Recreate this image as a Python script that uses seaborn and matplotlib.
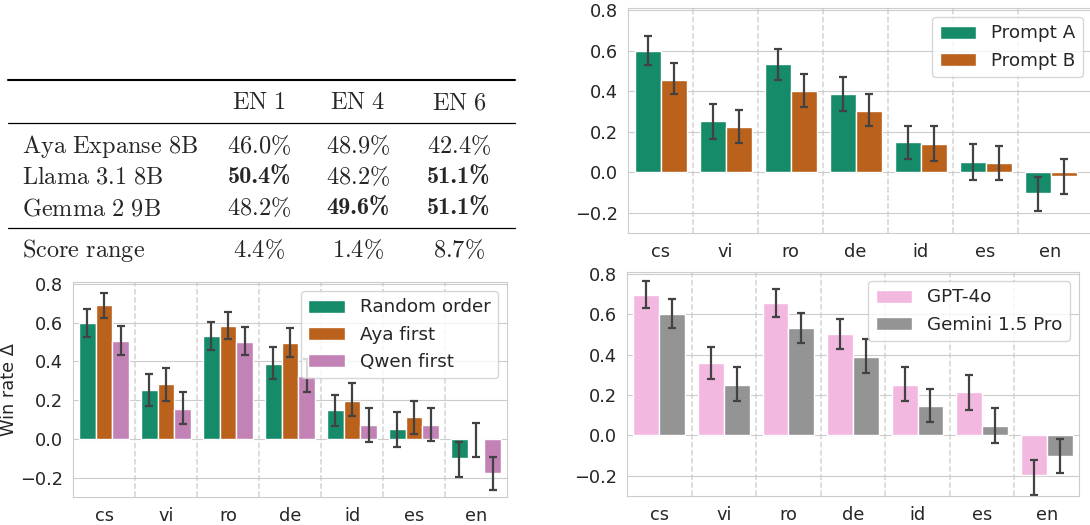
import numpy as np
import pandas as pd
import matplotlib.pyplot as plt
import seaborn as sns
from matplotlib.lines import Line2D

langs = ['cs', 'vi', 'ro', 'de', 'id', 'es', 'en']

# table: win rates in %
table_models = ['Aya Expanse 8B', 'Llama 3.1 8B', 'Gemma 2 9B']
table_cols = ['EN 1', 'EN 4', 'EN 6']
table_vals = [[46.0, 48.9, 42.4],
              [50.4, 48.2, 51.1],
              [48.2, 49.6, 51.1]]

# top right: prompt variants
prompt_labels = ['Prompt A', 'Prompt B']
prompt_mean = [[0.600, 0.252, 0.535, 0.388, 0.147, 0.049, -0.101],
               [0.457, 0.224, 0.403, 0.304, 0.141, 0.043, -0.018]]
prompt_lo = [[0.529, 0.162, 0.457, 0.300, 0.065, -0.039, -0.190],
             [0.386, 0.146, 0.324, 0.226, 0.054, -0.039, -0.108]]
prompt_hi = [[0.674, 0.335, 0.607, 0.471, 0.227, 0.137, -0.023],
             [0.537, 0.306, 0.483, 0.388, 0.227, 0.129, 0.064]]

# bottom left: order of presentation
order_labels = ['Random order', 'Aya first', 'Qwen first']
order_mean = [[0.598, 0.251, 0.532, 0.386, 0.147, 0.050, -0.101],
              [0.689, 0.285, 0.581, 0.496, 0.198, 0.113, -0.007],
              [0.503, 0.156, 0.499, 0.326, 0.074, 0.074, -0.174]]
order_lo = [[0.526, 0.168, 0.458, 0.311, 0.065, -0.041, -0.197],
            [0.626, 0.197, 0.515, 0.421, 0.116, 0.024, -0.094],
            [0.432, 0.075, 0.432, 0.244, -0.017, -0.010, -0.263]]
order_hi = [[0.672, 0.333, 0.603, 0.475, 0.229, 0.138, -0.014],
            [0.752, 0.368, 0.655, 0.574, 0.287, 0.198, 0.080],
            [0.583, 0.244, 0.576, 0.410, 0.159, 0.159, -0.091]]

# bottom right: judge model
judge_labels = ['GPT-4o', 'Gemini 1.5 Pro']
judge_mean = [[0.695, 0.359, 0.656, 0.504, 0.250, 0.217, -0.198],
              [0.601, 0.252, 0.534, 0.390, 0.148, 0.049, -0.102]]
judge_lo = [[0.633, 0.280, 0.587, 0.428, 0.170, 0.128, -0.295],
            [0.532, 0.171, 0.460, 0.311, 0.066, -0.038, -0.186]]
judge_hi = [[0.763, 0.440, 0.728, 0.578, 0.339, 0.301, -0.120],
            [0.675, 0.341, 0.608, 0.476, 0.232, 0.138, -0.016]]

sns.set_style("whitegrid")
plt.rcParams['mathtext.fontset'] = 'cm'
cb = sns.color_palette("colorblind")

W, H = 1090, 525
fig = plt.figure(figsize=(W / 100, H / 100), dpi=100)


def box(left, top, right, bottom):
    return [left / W, 1 - bottom / H, (right - left) / W, (bottom - top) / H]


def bars(ax, labels, mean, lo, hi, colors, xmax=6.5):
    df = pd.DataFrame({'lang': np.tile(langs, len(labels)),
                       'cond': np.repeat(labels, len(langs)),
                       'val': np.concatenate(mean)})
    sns.barplot(data=df, x='lang', y='val', hue='cond', palette=colors,
                errorbar=None, ax=ax)
    for cont, m, l, h in zip(ax.containers, mean, lo, hi):
        xs = [b.get_x() + b.get_width() / 2 for b in cont]
        m = np.array(m)
        ax.errorbar(xs, m, yerr=[m - np.array(l), np.array(h) - m], fmt='none',
                    ecolor='#424242', elinewidth=1.6, capsize=3, capthick=1.6)
    for i in range(len(langs) - 1):
        ax.axvline(i + 0.5, color='#d3d3d3', ls='--', lw=1.1, zorder=0)
    ax.set_xlim(-0.5, xmax)
    ax.set_ylim(-0.3, 0.81)
    ax.set_yticks([-0.2, 0.0, 0.2, 0.4, 0.6, 0.8])
    ax.set_xlabel('')
    ax.set_ylabel('')
    ax.legend(loc='upper right', fontsize=13.2)
    ax.tick_params(labelsize=12.8)


ax1 = fig.add_axes(box(628, 8, 1092, 233))
bars(ax1, prompt_labels, prompt_mean, prompt_lo, prompt_hi, [cb[2], cb[3]],
     xmax=-0.5 + (1092 - 628) / 65)

ax2 = fig.add_axes(box(73, 282, 507, 497))
bars(ax2, order_labels, order_mean, order_lo, order_hi, [cb[2], cb[3], cb[4]])
ax2.set_ylabel('Win rate Δ', fontsize=12.8, labelpad=1.5)

ax3 = fig.add_axes(box(627, 272, 1079, 496))
bars(ax3, judge_labels, judge_mean, judge_lo, judge_hi, [cb[6], cb[7]])

# table, laid out in pixel units
axt = fig.add_axes([0, 0.5, 0.5, 0.5])
axt.set_xlim(0, 545)
axt.set_ylim(262.5, 0)
axt.axis('off')

vals = np.array(table_vals)
best = vals.max(axis=0)
spread = vals.max(axis=0) - vals.min(axis=0)
col_x = [259, 358, 459]
fs = 17.5

for y, lw in [(80, 1.5), (123, 0.9), (228, 0.9)]:
    axt.add_line(Line2D([8, 515], [y, y], color='black', lw=lw))


def tex(s):
    s = s.replace(' ', r'\ ').replace('%', r'\%')
    return r'$\mathrm{' + s + '}$'


def cell(x, y, v, bold=False):
    s = f'{v:.1f}%'
    if bold:
        axt.text(x, y, s, ha='center', va='baseline', fontsize=fs,
                 family='cmb10')
    else:
        axt.text(x, y, tex(s), ha='center', va='baseline', fontsize=fs)


for x, c in zip(col_x, table_cols):
    axt.text(x, 109, tex(c), ha='center', va='baseline', fontsize=fs)
for y, name, row in zip([153, 184, 215], table_models, vals):
    axt.text(22, y, tex(name), ha='left', va='baseline', fontsize=fs)
    for x, v, b in zip(col_x, row, best):
        cell(x, y, v, bold=(v == b))
axt.text(22, 257, tex('Score range'), ha='left', va='baseline', fontsize=fs)
for x, v in zip(col_x, spread):
    cell(x, 257, v)

fig.savefig('out.png', dpi=100)
